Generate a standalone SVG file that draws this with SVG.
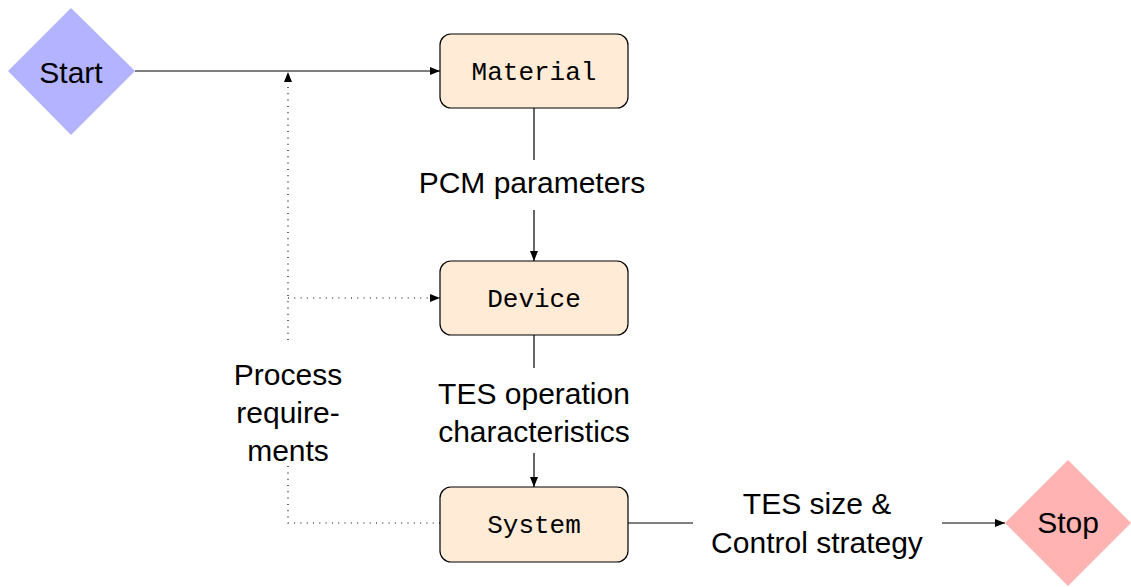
<svg xmlns="http://www.w3.org/2000/svg" width="1131" height="587" viewBox="0 0 1131 587">
  <style>
    .box { fill: #ffebd6; stroke: #000; stroke-width: 1.2; }
    .mono { font-family: "Liberation Mono", "DejaVu Sans Mono", monospace; font-size: 26px; fill: #000; text-anchor: middle; }
    .lbl { font-family: "Liberation Sans", Arial, sans-serif; font-size: 30px; fill: #000; text-anchor: middle; }
    .edge { fill: none; stroke: #000; stroke-width: 1.2; }
    .dot { fill: none; stroke: #000; stroke-width: 1.2; stroke-dasharray: 1 5.3; }
  </style>
  <defs>
    <marker id="arrow" viewBox="0 0 10 8" refX="10" refY="4" markerWidth="10" markerHeight="8" markerUnits="userSpaceOnUse" orient="auto">
      <path d="M0,0 L10,4 L0,8 Z" fill="#000"/>
    </marker>
  </defs>

  <!-- connectors -->
  <g id="connectors">
    <path class="edge" d="M135,71 H440" marker-end="url(#arrow)"/>
    <path class="edge" d="M534,108 V160"/>
    <path class="edge" d="M534,210 V261" marker-end="url(#arrow)"/>
    <path class="edge" d="M534,335 V368"/>
    <path class="edge" d="M534,453 V487" marker-end="url(#arrow)"/>
    <path class="edge" d="M628,523 H693"/>
    <path class="edge" d="M942,523 H1005" marker-end="url(#arrow)"/>
    <!-- process requirements feedback (dotted) -->
    <path class="dot" d="M440,523 H288 V466"/>
    <path class="dot" d="M288,340 V72" marker-end="url(#arrow)"/>
    <path class="dot" d="M288,298 H440" marker-end="url(#arrow)"/>
    <text class="lbl" x="288" y="385">Process</text>
    <text class="lbl" x="288" y="423">require-</text>
    <text class="lbl" x="288" y="461">ments</text>
    <text class="lbl" x="532" y="193">PCM parameters</text>
    <text class="lbl" x="534" y="404">TES operation</text>
    <text class="lbl" x="534" y="442">characteristics</text>
    <text class="lbl" x="817" y="514">TES size &amp;</text>
    <text class="lbl" x="817" y="553">Control strategy</text>
  </g>

  <g id="start">
    <polygon points="71,8 135,71 71,135 8,71" fill="#b3b3ff"/>
    <text class="lbl" x="71" y="83">Start</text>
  </g>

  <g id="material">
    <rect class="box" x="440" y="34" width="188" height="74" rx="11"/>
    <text class="mono" x="534" y="80">Material</text>
  </g>

  <g id="device">
    <rect class="box" x="440" y="261" width="188" height="74" rx="11"/>
    <text class="mono" x="534" y="307">Device</text>
  </g>

  <g id="system">
    <rect class="box" x="440" y="487" width="188" height="75" rx="11"/>
    <text class="mono" x="534" y="533">System</text>
  </g>

  <g id="stop">
    <polygon points="1068,460 1131,523 1068,586 1005,523" fill="#ffb3b3"/>
    <text class="lbl" x="1068" y="533">Stop</text>
  </g>
</svg>
